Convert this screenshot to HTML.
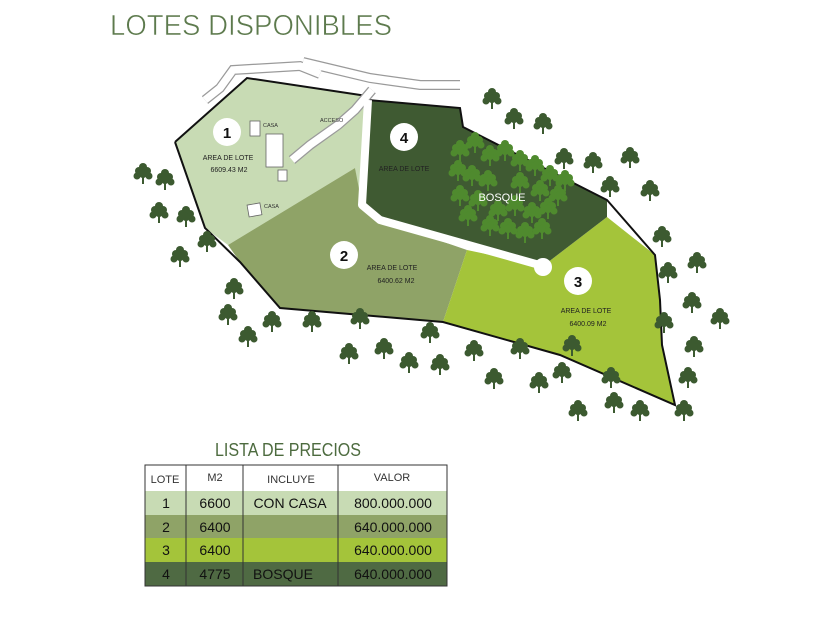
<!DOCTYPE html>
<html><head><meta charset="utf-8"><style>
html,body{margin:0;padding:0;background:#fff;}
svg{display:block;}
text{font-family:"Liberation Sans",sans-serif;}
</style></head><body>
<svg width="840" height="630" viewBox="0 0 840 630" xmlns="http://www.w3.org/2000/svg">
<defs>
<g id="t">
<rect x="-1" y="2" width="2" height="9" fill="currentColor"/>
<circle cx="0" cy="-6" r="4"/>
<circle cx="-4" cy="-2" r="4"/>
<circle cx="4" cy="-2" r="4"/>
<circle cx="-6" cy="3" r="3.5"/>
<circle cx="6" cy="3" r="3.5"/>
<circle cx="0" cy="1" r="4"/>
</g>
</defs>
<text x="110" y="35" font-size="29" fill="#5d7a4d" stroke="#fff" stroke-width="0.6" textLength="282" lengthAdjust="spacingAndGlyphs">LOTES DISPONIBLES</text>

<!-- lots -->
<polygon points="247,78 367,96 360,200 355,168 228,245 205,228 175,142" fill="#c8dbb4"/>
<polygon points="228,245 355,168 362,205 380,220 467,250 443,322 280,308 240,262" fill="#8fa367"/>
<polygon points="467,250 543,266 607,217 655,255 660,300 662,345 675,405 560,355 443,322" fill="#a4c43a"/>
<polygon points="368,100 460,108 463,127 607,200 607,217 543,266 380,220 362,205" fill="#3f5a32"/>
<!-- outline -->
<polyline points="175,142 247,78 367,96" fill="none" stroke="#111" stroke-width="2"/>
<polyline points="368,100 460,108 463,127 607,200 655,255 660,300 662,345 675,405 560,355 443,322 280,308 240,262 205,228 175,142" fill="none" stroke="#111" stroke-width="2"/>

<!-- access roads -->
<g fill="none" stroke-linejoin="miter">
<g stroke="#9a9a9a" stroke-width="10">
<polyline points="205,100 220,88 233,70 300,66 320,74"/>
<polyline points="303,62 370,78 420,85 460,85"/>
<polyline points="372,90 355,110 338,125 310,145 292,160"/>
</g>
<g stroke="#fff" stroke-width="7.5">
<polyline points="205,100 220,88 233,70 300,66 320,74"/>
<polyline points="303,62 370,78 420,85 460,85"/>
<polyline points="372,90 355,110 338,125 310,145 292,160"/>
</g>
</g>

<!-- bosque -->
<g fill="#4f8a2e" color="#4f8a2e">
<use href="#t" x="460" y="150"/><use href="#t" x="475" y="142"/><use href="#t" x="490" y="155"/><use href="#t" x="505" y="150"/><use href="#t" x="520" y="160"/><use href="#t" x="535" y="165"/><use href="#t" x="550" y="175"/><use href="#t" x="565" y="180"/>
<use href="#t" x="458" y="170"/><use href="#t" x="472" y="175"/><use href="#t" x="488" y="180"/><use href="#t" x="520" y="182"/><use href="#t" x="540" y="190"/><use href="#t" x="558" y="195"/>
<use href="#t" x="460" y="195"/><use href="#t" x="478" y="200"/><use href="#t" x="498" y="210"/><use href="#t" x="515" y="205"/><use href="#t" x="532" y="212"/><use href="#t" x="548" y="208"/>
<use href="#t" x="468" y="215"/><use href="#t" x="490" y="225"/><use href="#t" x="508" y="228"/><use href="#t" x="525" y="232"/><use href="#t" x="542" y="228"/>
</g>
<text x="502" y="201" font-size="11" fill="#fff" text-anchor="middle">BOSQUE</text>

<!-- internal road -->
<polyline points="368,100 362,205 380,220 543,266" fill="none" stroke="#fff" stroke-width="8" stroke-linejoin="round"/>
<circle cx="543" cy="267" r="9" fill="#fff"/>

<!-- houses -->
<g fill="#fff" stroke="#666" stroke-width="0.8">
<rect x="250" y="121" width="10" height="15"/>
<rect x="266" y="134" width="17" height="33"/>
<rect x="278" y="170" width="9" height="11"/>
<rect x="248" y="204" width="13" height="12" transform="rotate(-10 254 210)"/>
</g>
<g font-size="5.5" fill="#333">
<text x="263" y="127">CASA</text>
<text x="264" y="208">CASA</text>
<text x="320" y="122">ACCESO</text>
</g>

<!-- numbers -->
<g fill="#fff"><circle cx="227" cy="132" r="14"/><circle cx="404" cy="137" r="14"/><circle cx="344" cy="255" r="14"/><circle cx="578" cy="281" r="14"/></g>
<g font-size="15" font-weight="bold" fill="#111" text-anchor="middle">
<text x="227" y="138">1</text><text x="404" y="143">4</text><text x="344" y="261">2</text><text x="578" y="287">3</text>
</g>
<g font-size="7" fill="#222" text-anchor="middle">
<text x="228" y="160">AREA DE LOTE</text><text x="229" y="172">6609.43 M2</text>
<text x="404" y="171">AREA DE LOTE</text>
<text x="392" y="270">AREA DE LOTE</text><text x="396" y="283">6400.62 M2</text>
<text x="586" y="313">AREA DE LOTE</text><text x="588" y="326">6400.09 M2</text>
</g>

<!-- trees -->
<g fill="#3c5a30" color="#3c5a30">
<use href="#t" x="143" y="173"/><use href="#t" x="165" y="179"/><use href="#t" x="159" y="212"/><use href="#t" x="186" y="216"/><use href="#t" x="207" y="241"/><use href="#t" x="180" y="256"/><use href="#t" x="234" y="288"/><use href="#t" x="228" y="314"/><use href="#t" x="272" y="321"/><use href="#t" x="248" y="336"/><use href="#t" x="312" y="321"/><use href="#t" x="360" y="318"/><use href="#t" x="349" y="353"/><use href="#t" x="384" y="348"/><use href="#t" x="409" y="362"/><use href="#t" x="430" y="332"/><use href="#t" x="440" y="364"/><use href="#t" x="474" y="350"/><use href="#t" x="520" y="348"/><use href="#t" x="494" y="378"/><use href="#t" x="539" y="382"/><use href="#t" x="562" y="372"/><use href="#t" x="578" y="410"/><use href="#t" x="611" y="377"/><use href="#t" x="614" y="402"/><use href="#t" x="640" y="410"/><use href="#t" x="688" y="377"/><use href="#t" x="694" y="346"/><use href="#t" x="664" y="322"/><use href="#t" x="692" y="302"/><use href="#t" x="720" y="318"/><use href="#t" x="668" y="272"/><use href="#t" x="697" y="262"/><use href="#t" x="662" y="236"/><use href="#t" x="650" y="190"/><use href="#t" x="610" y="186"/><use href="#t" x="630" y="157"/><use href="#t" x="593" y="162"/><use href="#t" x="564" y="158"/><use href="#t" x="543" y="123"/><use href="#t" x="514" y="118"/><use href="#t" x="492" y="98"/><use href="#t" x="684" y="410"/><use href="#t" x="572" y="345"/>
</g>

<!-- table -->
<text x="288" y="456" font-size="18" fill="#4d6b3f" text-anchor="middle" textLength="146" lengthAdjust="spacingAndGlyphs">LISTA DE PRECIOS</text>
<rect x="145" y="465" width="302" height="121" fill="#fff"/>
<rect x="145" y="491" width="302" height="24" fill="#c8dbb4"/>
<rect x="145" y="515" width="302" height="23" fill="#8fa367"/>
<rect x="145" y="538" width="302" height="24" fill="#a4c43a"/>
<rect x="145" y="562" width="302" height="24" fill="#4f6a43"/>
<g stroke="#333" stroke-width="1" fill="none">
<rect x="145" y="465" width="302" height="121"/>
<line x1="186" y1="465" x2="186" y2="586"/><line x1="243" y1="465" x2="243" y2="586"/><line x1="338" y1="465" x2="338" y2="586"/>
</g>
<g font-size="11" fill="#333" text-anchor="middle">
<text x="165" y="483">LOTE</text><text x="215" y="481">M2</text><text x="291" y="483">INCLUYE</text><text x="392" y="481">VALOR</text>
</g>
<g font-size="14" fill="#111" text-anchor="middle">
<text x="166" y="508">1</text><text x="215" y="508">6600</text><text x="290" y="508">CON CASA</text><text x="393" y="508">800.000.000</text>
<text x="166" y="532">2</text><text x="215" y="532">6400</text><text x="393" y="532">640.000.000</text>
<text x="166" y="555">3</text><text x="215" y="555">6400</text><text x="393" y="555">640.000.000</text>
<text x="166" y="579">4</text><text x="215" y="579">4775</text><text x="283" y="579">BOSQUE</text><text x="393" y="579">640.000.000</text>
</g>
</svg>
</body></html>
